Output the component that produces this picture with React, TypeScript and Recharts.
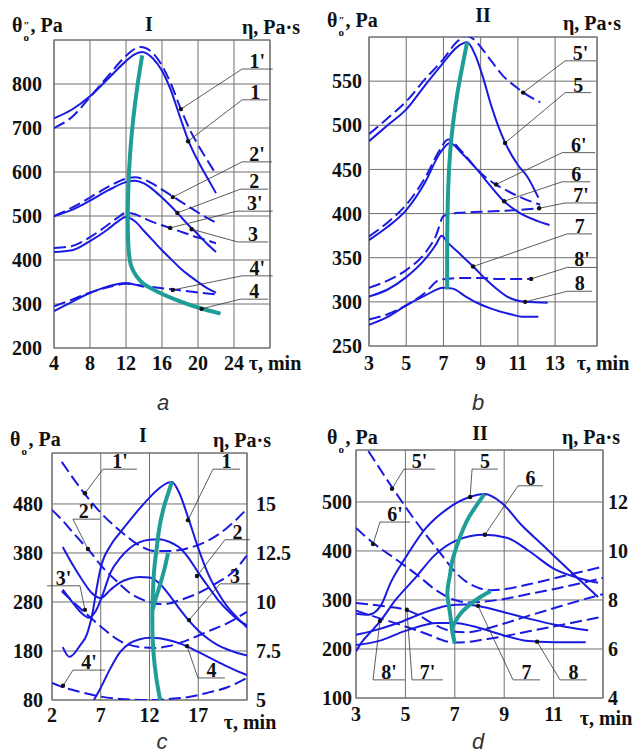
import { ComposedChart, Line, XAxis, YAxis, CartesianGrid, ReferenceLine, ReferenceDot, ReferenceArea } from 'recharts';

type Pt = [number, number];
type Curve = { pts: Pt[]; kind: 'solid' | 'dash' | 'teal' };
type Callout = { name: string; dot: Pt; elbow: Pt; end: Pt };

// ---- panel a : θo'' (Pa) vs τ (min), regime I
const aXTicks = [4, 8, 12, 16, 20, 24, 28];
const aYTicks = [200, 300, 400, 500, 600, 700, 800];
const a1: Pt[] = [[4, 722], [6, 742], [8, 772], [10, 812], [12, 852], [13, 868], [13.8, 873], [15, 858], [16, 830], [17, 785], [18, 725], [19, 668], [20, 625], [21, 588], [22, 552]];
const a1d: Pt[] = [[4, 700], [6, 725], [8, 770], [10, 818], [12, 864], [13, 880], [13.6, 884], [15, 870], [16, 842], [17, 800], [18, 748], [19, 700], [20, 662], [21, 628], [22, 595]];
const a2: Pt[] = [[4, 500], [6, 514], [8, 535], [10, 558], [12, 577], [13, 580], [14, 574], [15, 560], [16, 542], [17, 522], [17.7, 507], [19, 478], [20, 458], [21, 437], [22, 418]];
const a2d: Pt[] = [[4, 500], [6, 519], [8, 542], [10, 566], [12, 585], [13, 588], [14, 583], [15, 573], [16, 560], [17, 547], [18, 534], [19, 521], [20, 508], [21, 496], [22, 485]];
const a3: Pt[] = [[4, 418], [6, 422], [8, 443], [10, 470], [11, 486], [12, 498], [13, 488], [14, 466], [15, 444], [16, 422], [17, 402], [18, 382], [19, 365], [20, 350], [21, 336], [22, 326]];
const a3d: Pt[] = [[4, 427], [6, 432], [8, 452], [10, 480], [11, 495], [12, 507], [13, 504], [14, 495], [15, 486], [16, 479], [17, 472], [18, 465], [19, 458], [20, 451], [21, 445], [22, 438]];
const a4: Pt[] = [[4, 284], [6, 305], [8, 325], [10, 340], [12, 348], [13, 344], [14, 339]];
const a4d: Pt[] = [[4, 295], [6, 310], [8, 326], [10, 338], [12, 346], [14, 341], [16, 336], [18, 331], [20, 326], [22, 322]];
const aTeal: Pt[] = [[13.8, 865], [13.3, 800], [12.8, 720], [12.45, 640], [12.25, 560], [12.2, 480], [12.3, 420], [12.6, 385], [13.2, 362], [14, 345], [15.5, 328], [17.5, 310], [20, 292], [22.5, 278]];
const aCallouts: Callout[] = [
  { name: "1'", dot: [18.1, 743], elbow: [24.9, 834], end: [28.3, 834] },
  { name: '1', dot: [18.9, 670], elbow: [24.9, 764], end: [27.8, 764] },
  { name: "2'", dot: [17.2, 543], elbow: [24.9, 623], end: [28.2, 623] },
  { name: '2', dot: [17.7, 507], elbow: [24.7, 561], end: [27.8, 561] },
  { name: "3'", dot: [16.9, 473], elbow: [24.3, 511], end: [28.3, 511] },
  { name: '3', dot: [19.3, 470], elbow: [24.4, 441], end: [27.8, 441] },
  { name: "4'", dot: [17.2, 332], elbow: [24.9, 364], end: [28.3, 364] },
  { name: '4', dot: [20.4, 289], elbow: [24.7, 311], end: [27.8, 311] },
];

// ---- panel b : θo'' (Pa) vs τ (min), regime II
const bXTicks = [3, 5, 7, 9, 11, 13, 15.25];
const bYTicks = [250, 300, 350, 400, 450, 500, 550];
const b5: Pt[] = [[3, 482], [4, 500], [5, 518], [6, 545], [7, 571], [7.7, 588], [8.27, 594], [8.7, 580], [9.1, 556], [9.6, 520], [10.3, 481], [11, 455], [11.5, 442], [12.1, 418]];
const b5d: Pt[] = [[3, 490], [4, 508], [5, 527], [6, 552], [7, 575], [7.7, 594], [8.2, 601], [8.7, 596], [9.1, 586], [9.6, 572], [10.2, 556], [10.8, 545], [11.3, 537], [12.2, 526]];
const b6: Pt[] = [[3, 370], [4, 385], [5, 404], [6, 435], [6.8, 468], [7.35, 480], [8, 468], [8.8, 450], [9.5, 432], [10.2, 415], [11, 402], [12, 392], [12.7, 387]];
const b6d: Pt[] = [[3, 374], [4, 390], [5, 410], [6, 440], [6.8, 472], [7.25, 484], [8, 470], [8.8, 450], [9.8, 433], [10.5, 425], [11.3, 417], [12.2, 410]];
const b7: Pt[] = [[3, 306], [4, 314], [5, 328], [6, 348], [6.6, 365], [6.9, 375], [7.2, 368], [8, 352], [8.6, 340], [9.3, 325], [9.9, 314], [10.5, 305], [11.4, 300], [12.6, 299]];
const b7d: Pt[] = [[3, 316], [4, 324], [5, 336], [6, 355], [6.6, 375], [7, 397], [7.5, 400], [8, 401], [9, 402], [10, 403], [11, 404], [12.1, 406]];
const b8: Pt[] = [[3, 274], [4, 283], [5, 296], [6, 307], [7, 316], [7.5, 315], [8.2, 306], [8.8, 299], [9.6, 292], [10.6, 286], [11.3, 283], [12.1, 283]];
const b8d: Pt[] = [[3, 280], [4, 286], [5, 296], [6, 310], [6.8, 325], [7.9, 327], [9, 327], [10, 326], [11.7, 326]];
const bTeal: Pt[] = [[8.27, 594], [8.0, 565], [7.7, 530], [7.45, 490], [7.3, 450], [7.22, 400], [7.2, 350], [7.2, 314]];
const bCallouts: Callout[] = [
  { name: "5'", dot: [11.28, 537], elbow: [13.54, 573], end: [15.2, 573] },
  { name: '5', dot: [10.31, 480], elbow: [13.54, 537], end: [14.94, 537] },
  { name: "6'", dot: [9.83, 433], elbow: [13.38, 469], end: [15.15, 469] },
  { name: '6', dot: [10.26, 414], elbow: [13.38, 436], end: [14.88, 436] },
  { name: "7'", dot: [12.14, 406], elbow: [13.54, 412], end: [15.25, 412] },
  { name: '7', dot: [8.59, 340], elbow: [13.65, 377], end: [14.99, 377] },
  { name: "8'", dot: [11.71, 326], elbow: [13.65, 339], end: [15.25, 339] },
  { name: '8', dot: [11.39, 300], elbow: [13.65, 312], end: [14.99, 312] },
];

// ---- panel c : θo (Pa) and η (Pa·s) vs τ (min), regime I
const cXTicks = [2, 7, 12, 17, 22];
const cYTicks = [80, 180, 280, 380, 480];
const cRTicks = [5, 7.5, 10, 12.5, 15];
const c1: Pt[] = [[3.1, 188], [3.8, 168], [4.9, 192], [5.6, 215], [6.2, 262], [6.6, 310], [7, 350], [8, 395], [9, 422], [10, 447], [11, 471], [12, 493], [13, 512], [14, 524], [14.3, 525], [15, 505], [16, 450], [17, 390], [18, 338], [19, 300], [20, 270], [21, 248], [22, 228]];
const c2: Pt[] = [[3.1, 305], [4, 282], [5, 258], [5.8, 248], [6.5, 262], [7.2, 295], [8, 340], [9, 370], [10, 390], [11, 402], [12, 407], [13, 408], [14, 403], [15, 392], [16, 370], [17, 340], [18, 312], [19, 285], [20, 263], [21, 245], [22, 232]];
const c3: Pt[] = [[3.1, 392], [4, 360], [5, 328], [6, 300], [7, 288], [8, 305], [9, 320], [10, 328], [11, 331], [12, 330], [13, 318], [14, 295], [15, 268], [16, 243], [17, 222], [18, 205], [19, 192], [20, 183], [21, 176], [22, 171]];
const c4: Pt[] = [[6.3, 80], [7, 105], [8, 145], [9, 178], [10, 196], [11, 204], [12, 207], [13, 206], [14, 202], [15, 196], [16, 188], [17, 178], [18, 168], [19, 158], [20, 148], [21, 139], [22, 131]];
const c1d: Pt[] = [[3, 566], [5, 510], [7, 462], [9, 425], [11, 395], [12.5, 384], [14, 384], [16, 390], [18, 405], [20, 432], [22, 470]];
const c2d: Pt[] = [[2, 468], [3, 448], [4, 425], [5, 403], [5.7, 388], [7, 355], [8.7, 321], [10, 298], [12, 280], [13, 276], [14, 277], [15, 283], [17, 298], [19, 320], [20.5, 340], [22, 375]];
const c3d: Pt[] = [[3, 302], [5, 265], [7, 230], [9, 200], [11, 188], [12.5, 186], [14, 190], [16, 203], [18, 220], [20, 237], [22, 260]];
const c4d: Pt[] = [[2, 115], [3, 107], [5, 96], [7, 87], [9, 82], [12, 80], [14, 82], [16, 86], [18, 95], [20, 106], [22, 125]];
const cTeal: Pt[] = [[14.3, 525], [13.8, 495], [13.4, 468], [13.0, 430], [12.8, 400], [12.55, 360], [12.4, 320], [12.3, 268], [12.3, 220], [12.4, 178], [12.7, 125], [13.1, 80]];
const cTeal2: Pt[] = [[13.9, 380], [13.5, 345], [13.0, 310], [12.6, 285], [12.35, 265]];
const cCallouts: Callout[] = [
  { name: "1'", dot: [5.38, 502], elbow: [7.23, 551], end: [10.72, 551] },
  { name: "2'", dot: [5.69, 388], elbow: [4.15, 449], end: [6.92, 449] },
  { name: "3'", dot: [5.38, 264], elbow: [4.87, 313], end: [1.49, 313] },
  { name: "4'", dot: [3.13, 109], elbow: [4.15, 141], end: [7.44, 141] },
  { name: '1', dot: [15.95, 447], elbow: [18.51, 551], end: [21.28, 551] },
  { name: '2', dot: [16.87, 333], elbow: [19.74, 407], end: [22.3, 407] },
  { name: '3', dot: [16.05, 243], elbow: [19.23, 317], end: [22.3, 317] },
  { name: '4', dot: [15.85, 190], elbow: [16.97, 125], end: [19.74, 125] },
];

// ---- panel d : θo (Pa) and η (Pa·s) vs τ (min), regime II
const dXTicks = [3, 5, 7, 9, 11, 13];
const dYTicks = [100, 200, 300, 400, 500];
const dRTicks = [4, 6, 8, 10, 12];
const d5: Pt[] = [[3, 272], [3.5, 270], [4, 288], [4.4, 335], [5, 386], [5.8, 445], [6.7, 486], [7.6, 510], [8.2, 516], [8.9, 498], [9.7, 453], [10.6, 410], [11.6, 362], [12.8, 306]];
const d6: Pt[] = [[3, 195], [3.25, 215], [3.6, 235], [4, 258], [4.6, 300], [5.4, 345], [6.2, 392], [7, 420], [7.6, 430], [8.2, 433], [9.1, 427], [10, 400], [11, 364], [12, 345], [12.8, 335]];
const d7: Pt[] = [[3, 229], [3.6, 236], [4.7, 253], [5.7, 273], [6.7, 288], [7.4, 291], [8, 287], [9, 275], [10, 262], [11, 250], [12, 241], [12.4, 238]];
const d8: Pt[] = [[3, 208], [3.9, 216], [5, 237], [6.3, 253], [7, 253], [7.7, 247], [8.9, 229], [9.75, 218], [10.4, 215], [11, 214], [12.3, 214]];
const d5d: Pt[] = [[3.5, 604], [4.5, 527], [5.5, 455], [6.5, 390], [7, 358], [7.5, 336], [8, 324], [8.5, 320], [9, 322], [10, 332], [11, 344], [12, 356], [13, 368]];
const d6d: Pt[] = [[3, 447], [3.7, 416], [4.7, 380], [5.5, 350], [6.3, 318], [7, 300], [7.5, 295], [8, 296], [9, 302], [10, 312], [11, 322], [12, 333], [13, 345]];
const d7d: Pt[] = [[3, 294], [4, 288], [5, 280], [5.5, 270], [6, 255], [6.5, 242], [7, 235], [7.5, 234], [8, 238], [9, 252], [10, 268], [11, 283], [12, 298], [13, 312]];
const d8d: Pt[] = [[3, 278], [4, 262], [5, 246], [6, 228], [6.5, 218], [7, 213], [7.5, 214], [8, 218], [9, 226], [10, 236], [11, 246], [12, 256], [13, 266]];
const dTeal: Pt[] = [[8.2, 516], [7.55, 467], [7.15, 420], [6.9, 380], [6.8, 350], [6.7, 314], [6.8, 275], [6.9, 235], [7.0, 212]];
const dTeal2: Pt[] = [[6.9, 245], [7.2, 270], [7.55, 288], [8, 305], [8.45, 318]];
const dCallouts: Callout[] = [
  { name: "5'", dot: [4.46, 527], elbow: [4.94, 567], end: [6.2, 567] },
  { name: '5', dot: [7.62, 510], elbow: [7.7, 567], end: [8.75, 567] },
  { name: "6'", dot: [3.69, 414], elbow: [3.97, 459], end: [5.19, 459] },
  { name: '6', dot: [8.22, 433], elbow: [9.56, 533], end: [10.57, 533] },
  { name: "8'", dot: [3.97, 257], elbow: [3.69, 137], end: [4.98, 137] },
  { name: "7'", dot: [5.06, 280], elbow: [5.27, 137], end: [6.52, 137] },
  { name: '7', dot: [7.94, 288], elbow: [9.36, 137], end: [10.45, 137] },
  { name: '8', dot: [10.33, 215], elbow: [11.26, 137], end: [12.35, 137] },
];

const BLUE = '#1a1ae0';
const TEAL = '#1f9e98';
const GRID = '#707070';
const SERIF = '"Liberation Serif", "Times New Roman", serif';
const tickFont = { fill: '#111', fontSize: 20, fontFamily: SERIF, fontWeight: 700 };

const toRows = (pts: Pt[]) => pts.map(([x, y]) => ({ x, y }));

type PanelProps = {
  width: number; height: number;
  margin: { top: number; right: number; bottom: number; left: number };
  xDomain: [number, number]; xTicks: number[]; xGap: number; endDx: number; endDy: number;
  yDomain: [number, number]; yTicks: number[]; yGap: number; yWidth: number;
  rDomain?: [number, number]; rTicks?: number[]; rGap?: number; rWidth?: number;
  curves: Curve[]; callouts: Callout[];
};

function Panel(p: PanelProps) {
  // last x tick carries the axis name instead of a number
  const xTick = (t: any) => {
    const last = t.payload.value === p.xDomain[1];
    return (
      <text x={t.x + (last ? p.endDx : 0)} y={t.y + (last ? p.endDy : 0)} dy="0.71em" textAnchor="middle"
        fontFamily={SERIF} fontWeight={700} fontSize={20} fill="#111">
        {last ? 'τ, min' : String(t.payload.value)}
      </text>
    );
  };
  return (
    <ComposedChart width={p.width} height={p.height} margin={p.margin}>
      <CartesianGrid stroke={GRID} strokeWidth={1} />
      <XAxis type="number" dataKey="x" domain={p.xDomain} ticks={p.xTicks} interval={0} tickSize={0}
        tickMargin={p.xGap} axisLine={false} tick={xTick} height={30} allowDataOverflow />
      <YAxis type="number" domain={p.yDomain} ticks={p.yTicks} interval={0} tickSize={0}
        tickMargin={p.yGap} axisLine={false} tick={tickFont} width={p.yWidth} allowDataOverflow />
      {p.rTicks && (
        <YAxis yAxisId="r" orientation="right" type="number" domain={p.rDomain} ticks={p.rTicks}
          interval={0} tickSize={0} tickMargin={p.rGap} axisLine={false} tick={tickFont}
          width={p.rWidth} allowDataOverflow />
      )}
      <ReferenceArea x1={p.xDomain[0]} x2={p.xDomain[1]} y1={p.yDomain[0]} y2={p.yDomain[1]}
        fill="none" stroke={GRID} strokeWidth={1.2} ifOverflow="visible" />
      {p.curves.map((c, i) => (
        <Line key={i} data={toRows(c.pts)} dataKey="y" type={c.kind === 'teal' ? 'natural' : 'monotone'}
          stroke={c.kind === 'teal' ? TEAL : BLUE} strokeWidth={c.kind === 'teal' ? 4 : 2}
          strokeDasharray={c.kind === 'dash' ? '12 5' : undefined} dot={false} activeDot={false}
          isAnimationActive={false} />
      ))}
      {p.callouts.map((c) => (
        <ReferenceLine key={c.name + 'a'} ifOverflow="visible" stroke="#333" strokeWidth={0.8}
          segment={[{ x: c.dot[0], y: c.dot[1] }, { x: c.elbow[0], y: c.elbow[1] }]} />
      ))}
      {p.callouts.map((c) => (
        <ReferenceLine key={c.name + 'b'} ifOverflow="visible" stroke="#333" strokeWidth={0.8}
          segment={[{ x: c.elbow[0], y: c.elbow[1] }, { x: c.end[0], y: c.end[1] }]} />
      ))}
      {p.callouts.map((c) => (
        <ReferenceDot key={c.name + 'c'} x={c.dot[0]} y={c.dot[1]} r={2.2} fill="#111" stroke="none"
          ifOverflow="visible" />
      ))}
      {p.callouts.map((c) => (
        <ReferenceDot key={c.name + 'd'} x={(c.elbow[0] + c.end[0]) / 2} y={c.elbow[1]} r={0}
          ifOverflow="visible"
          shape={(s: any) => (
            <text x={s.cx} y={s.cy - 1} textAnchor="middle" fontFamily={SERIF} fontWeight={700}
              fontSize={20} fill="#111">{c.name}</text>
          )} />
      ))}
    </ComposedChart>
  );
}

function Title({ x, y, center, children }: { x: number; y: number; center?: boolean; children: any }) {
  return (
    <div style={{
      position: 'absolute', left: x, top: y - 11, lineHeight: '22px', fontSize: 20, fontWeight: 700,
      whiteSpace: 'nowrap', transform: center ? 'translateX(-50%)' : undefined,
    }}>{children}</div>
  );
}

function Theta({ dbl }: { dbl?: boolean }) {
  return (
    <span>θ<span style={{ position: 'relative', display: 'inline-block', width: 8, height: 1 }}>
      {dbl && <span style={{ position: 'absolute', left: 1, top: -17, fontSize: 11 }}>″</span>}
      <span style={{ position: 'absolute', left: 1, top: -5, fontSize: 11 }}>o</span>
    </span>, Pa</span>
  );
}

function Letter({ x, y, t }: { x: number; y: number; t: string }) {
  return (
    <div style={{
      position: 'absolute', left: x, top: y - 9, lineHeight: '18px', transform: 'translateX(-50%)',
      fontFamily: '"Liberation Sans", Arial, sans-serif', fontStyle: 'italic', fontSize: 22, color: '#333',
    }}>{t}</div>
  );
}

export default function App() {
  return (
    <div style={{
      position: 'absolute', left: 0, top: 0, width: 633, height: 753, background: '#fff',
      fontFamily: SERIF, color: '#111', overflow: 'hidden',
    }}>
      <div style={{ position: 'absolute', left: 0, top: 0 }}>
        <Panel width={320} height={380} margin={{ top: 40, right: 50, bottom: 2, left: 4 }}
          xDomain={[4, 28]} xTicks={aXTicks} xGap={8} endDx={5} endDy={0}
          yDomain={[200, 900]} yTicks={aYTicks} yGap={12} yWidth={50}
          curves={[
            { pts: a1, kind: 'solid' }, { pts: a1d, kind: 'dash' },
            { pts: a2, kind: 'solid' }, { pts: a2d, kind: 'dash' },
            { pts: a3, kind: 'solid' }, { pts: a3d, kind: 'dash' },
            { pts: a4, kind: 'solid' }, { pts: a4d, kind: 'dash' },
            { pts: aTeal, kind: 'teal' },
          ]}
          callouts={aCallouts} />
      </div>
      <div style={{ position: 'absolute', left: 316, top: 0 }}>
        <Panel width={317} height={380} margin={{ top: 37, right: 36, bottom: 4, left: 3 }}
          xDomain={[3, 15.25]} xTicks={bXTicks} xGap={10} endDx={6} endDy={0}
          yDomain={[250, 600]} yTicks={bYTicks} yGap={7} yWidth={50}
          curves={[
            { pts: b5, kind: 'solid' }, { pts: b5d, kind: 'dash' },
            { pts: b6, kind: 'solid' }, { pts: b6d, kind: 'dash' },
            { pts: b7, kind: 'solid' }, { pts: b7d, kind: 'dash' },
            { pts: b8, kind: 'solid' }, { pts: b8d, kind: 'dash' },
            { pts: bTeal, kind: 'teal' },
          ]}
          callouts={bCallouts} />
      </div>
      <div style={{ position: 'absolute', left: 0, top: 380 }}>
        <Panel width={316} height={373} margin={{ top: 73, right: 29, bottom: 23, left: 2 }}
          xDomain={[2, 22]} xTicks={cXTicks} xGap={8} endDx={3} endDy={7}
          yDomain={[80, 584]} yTicks={cYTicks} yGap={9} yWidth={50}
          rDomain={[5, 17.6]} rTicks={cRTicks} rGap={9} rWidth={40}
          curves={[
            { pts: c1, kind: 'solid' }, { pts: c2, kind: 'solid' },
            { pts: c3, kind: 'solid' }, { pts: c4, kind: 'solid' },
            { pts: c1d, kind: 'dash' }, { pts: c2d, kind: 'dash' },
            { pts: c3d, kind: 'dash' }, { pts: c4d, kind: 'dash' },
            { pts: cTeal, kind: 'teal' }, { pts: cTeal2, kind: 'teal' },
          ]}
          callouts={cCallouts} />
      </div>
      <div style={{ position: 'absolute', left: 316, top: 380 }}>
        <Panel width={317} height={373} margin={{ top: 70, right: 0, bottom: 25, left: 0 }}
          xDomain={[3, 13]} xTicks={dXTicks} xGap={9} endDx={3} endDy={4}
          yDomain={[100, 606]} yTicks={dYTicks} yGap={4} yWidth={40}
          rDomain={[4, 14.12]} rTicks={dRTicks} rGap={5} rWidth={30}
          curves={[
            { pts: d5, kind: 'solid' }, { pts: d6, kind: 'solid' },
            { pts: d7, kind: 'solid' }, { pts: d8, kind: 'solid' },
            { pts: d5d, kind: 'dash' }, { pts: d6d, kind: 'dash' },
            { pts: d7d, kind: 'dash' }, { pts: d8d, kind: 'dash' },
            { pts: dTeal, kind: 'teal' }, { pts: dTeal2, kind: 'teal' },
          ]}
          callouts={dCallouts} />
      </div>

      <Title x={12} y={25}><Theta dbl /></Title>
      <Title x={149} y={24} center>I</Title>
      <Title x={242} y={27}>η, Pa·s</Title>
      <Title x={327} y={20}><Theta dbl /></Title>
      <Title x={483} y={15} center>II</Title>
      <Title x={563} y={23}>η, Pa·s</Title>
      <Title x={10} y={439}><Theta /></Title>
      <Title x={143} y={435} center>I</Title>
      <Title x={213} y={440}>η, Pa·s</Title>
      <Title x={327} y={437}><Theta /></Title>
      <Title x={480} y={433} center>II</Title>
      <Title x={562} y={437}>η, Pa·s</Title>

      <Letter x={163} y={403} t="a" />
      <Letter x={478} y={403} t="b" />
      <Letter x={162} y={742} t="c" />
      <Letter x={478} y={742} t="d" />
    </div>
  );
}
